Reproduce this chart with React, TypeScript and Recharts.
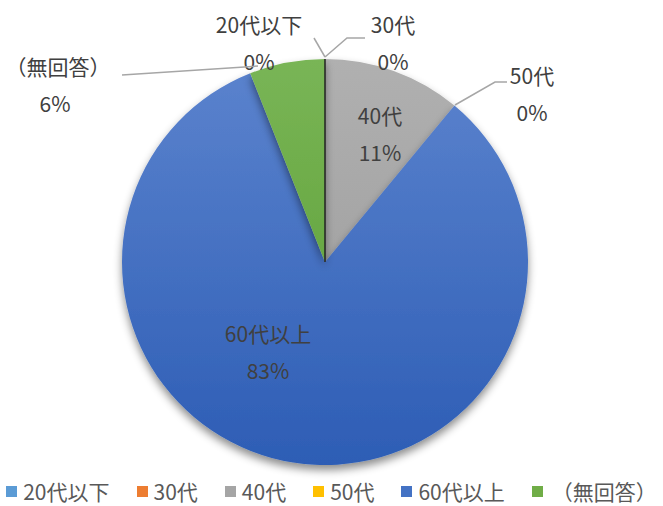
import { Cell, Legend, Pie, PieChart } from "recharts";

const categories = ["20代以下", "30代", "40代", "50代", "60代以上", "（無回答）"];
const shares = [0, 0, 11, 0, 83, 6];
const percentLabels = ["0%", "0%", "11%", "0%", "83%", "6%"];

const colors = ["#5B9BD5", "#ED7D31", "#A5A5A5", "#FFC000", "#4472C4", "#70AD47"];
const fills = ["#5B9BD5", "#ED7D31", "url(#gGray)", "#FFC000", "url(#gBlue)", "url(#gGreen)"];

// label placement relative to the pie centre (px)
const labelLayout = [
  { x: -66, y: -238, line: [[0, -205], [-11, -224]] },
  { x: 68, y: -238, line: [[0, -205], [22, -224], [40, -224]] },
  { x: 55, y: -147, line: null },
  { x: 207, y: -187, line: [[130, -157], [170, -180], [182, -180]] },
  { x: -57, y: 71, line: null },
  { x: -267, y: -196, line: [[-67, -196], [-203, -187]] },
];

const data = categories.map((name, i) => ({ name, value: shares[i], pct: percentLabels[i] }));

const FONT = "'Noto Sans CJK JP', 'Noto Sans', sans-serif";

function renderLabel(props: any) {
  const { cx, cy, index } = props;
  const l = labelLayout[index];
  const tx = cx + l.x;
  const ty = cy + l.y;
  return (
    <g key={`lbl-${index}`}>
      {index === 0 && (
        <line x1={cx} y1={cy} x2={cx} y2={cy - props.outerRadius} stroke="#222" strokeWidth={1.5} />
      )}
      {l.line && (
        <polyline
          points={l.line.map(([px, py]) => `${cx + px},${cy + py}`).join(" ")}
          fill="none"
          stroke="#a6a6a6"
          strokeWidth={1.5}
        />
      )}
      <text x={tx} y={ty} textAnchor="middle" dominantBaseline="central" fill="#404040" fontSize={21} fontFamily={FONT}>
        {data[index].name}
      </text>
      <text x={tx + (index === 5 ? -3 : 0)} y={ty + 37} textAnchor="middle" dominantBaseline="central" fill="#404040" fontSize={21} fontFamily={FONT}>
        {data[index].pct}
      </text>
    </g>
  );
}

function renderLegend() {
  return (
    <div style={{ display: "flex", justifyContent: "center", alignItems: "center", height: 30, fontFamily: FONT, fontSize: 21, lineHeight: "30px", color: "#595959", whiteSpace: "nowrap" }}>
      {categories.map((c, i) => (
        <span key={c} style={{ display: "inline-flex", alignItems: "center", marginRight: i < categories.length - 1 ? 27 : 0 }}>
          <span style={{ display: "inline-block", width: 11, height: 11, background: colors[i], marginRight: i === 5 ? 9 : 6 }} />
          {c}
        </span>
      ))}
    </div>
  );
}

export default function App() {
  return (
    <div style={{ position: "absolute", left: 0, top: 0, width: 663, height: 506, background: "#fff" }}>
      <PieChart width={663} height={506} margin={{ top: 0, right: 0, bottom: 0, left: 0 }}>
        <defs>
          <linearGradient id="gBlue" x1="0" y1="0" x2="0" y2="1">
            <stop offset="0%" stopColor="#5a82cd" />
            <stop offset="100%" stopColor="#2d5db5" />
          </linearGradient>
          <linearGradient id="gGray" x1="0" y1="0" x2="0" y2="1">
            <stop offset="0%" stopColor="#b0b0b0" />
            <stop offset="100%" stopColor="#a4a4a4" />
          </linearGradient>
          <linearGradient id="gGreen" x1="0" y1="0" x2="0" y2="1">
            <stop offset="0%" stopColor="#79b556" />
            <stop offset="100%" stopColor="#68a843" />
          </linearGradient>
          <filter id="pieShadow" x="-20%" y="-20%" width="140%" height="140%">
            <feDropShadow dx="0" dy="5" stdDeviation="4" floodColor="#000" floodOpacity="0.45" />
          </filter>
        </defs>
        <Pie
          data={data}
          dataKey="value"
          nameKey="name"
          cx={325}
          cy={262}
          outerRadius={203}
          startAngle={90}
          endAngle={-270}
          stroke="none"
          label={renderLabel}
          labelLine={false}
          isAnimationActive={false}
          style={{ filter: "url(#pieShadow)" }}
        >
          {data.map((d, i) => (
            <Cell key={d.name} fill={fills[i]} />
          ))}
        </Pie>
        <Legend verticalAlign="bottom" height={30} wrapperStyle={{ top: 476, bottom: "auto", left: 0, width: 663 }} content={renderLegend} />
      </PieChart>
    </div>
  );
}
